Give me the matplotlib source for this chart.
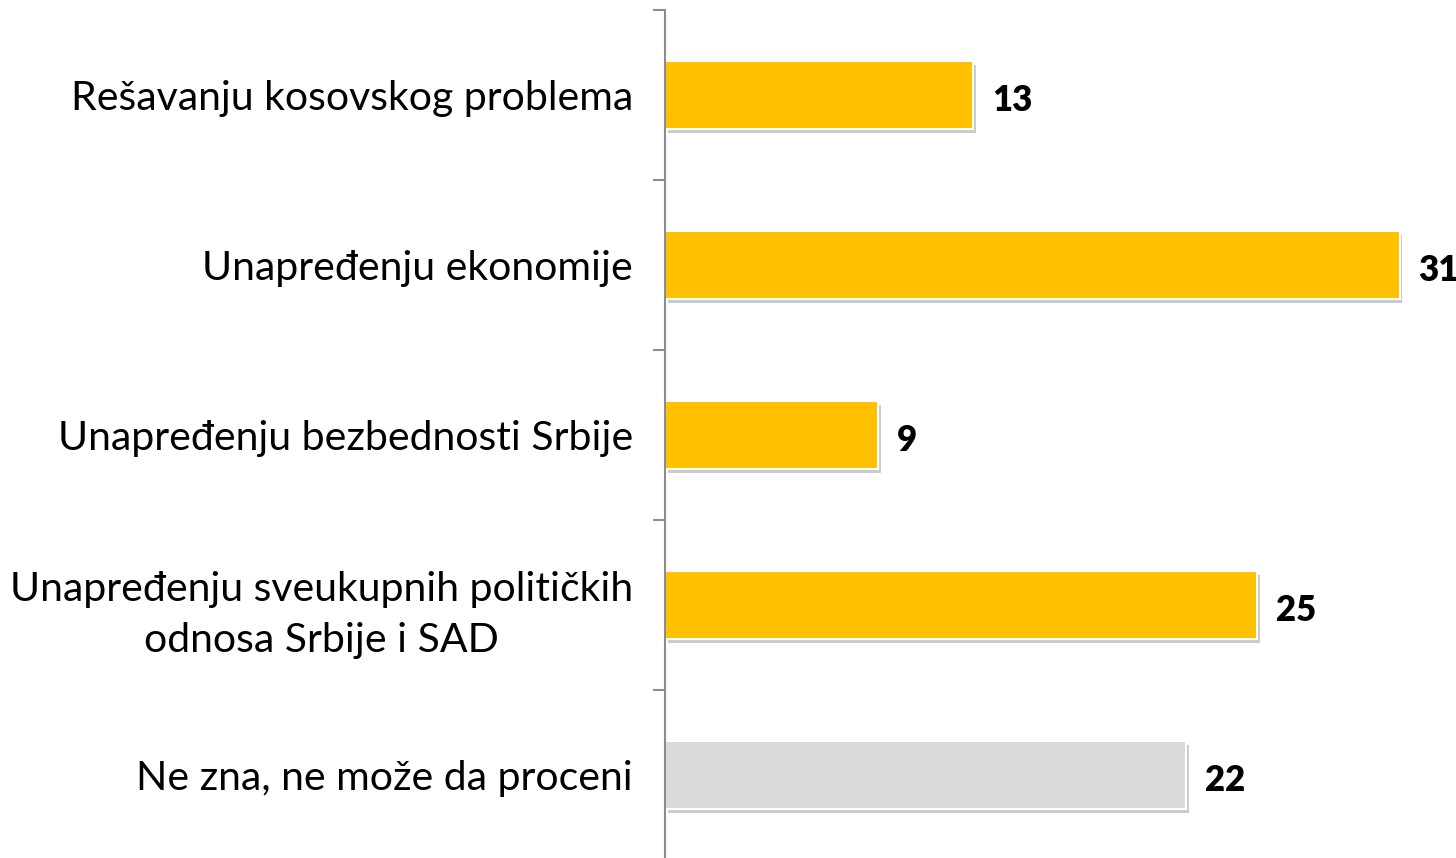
import numpy as np
import matplotlib.pyplot as plt
import matplotlib.patheffects as pe

kategorije = ["Rešavanju kosovskog problema",
              "Unapređenju ekonomije",
              "Unapređenju bezbednosti Srbije",
              "Unapređenju sveukupnih političkih\nodnosa Srbije i SAD",
              "Ne zna, ne može da proceni"]
vrednosti = [13, 31, 9, 25, 22]
boje = ["#FFC000", "#FFC000", "#FFC000", "#FFC000", "#D9D9D9"]

plt.rcParams['font.family'] = ['Lato', 'DejaVu Sans']

fig = plt.figure(figsize=(14.56, 8.58), dpi=100)
ax = fig.add_axes([665/1456, -2/858, 782/1456, 850/858])

y = np.arange(len(kategorije))
senka = [pe.SimplePatchShadow(offset=(2, -3), shadow_rgbFace='#999999', alpha=0.5), pe.Normal()]
bars = ax.barh(y, vrednosti, height=0.4, color=boje, edgecolor='white', linewidth=1.5)
for b in bars:
    b.set_path_effects(senka)

for yi, v in zip(y, vrednosti):
    ax.text(v + 0.8, yi + 0.03, str(v), va='center', ha='left', fontsize=25,
            fontweight='heavy', clip_on=False)

ax.set_xlim(0, 33)
ax.set_ylim(4.5, -0.5)
ax.set_yticks(y)
ax.set_yticklabels(kategorije, fontsize=29.5, linespacing=1.45, ha='right',
                   multialignment='center')
ax.tick_params(axis='y', which='major', length=0, pad=23)
ax.set_yticks(np.arange(-0.5, 5.0, 1.0), minor=True)
ax.tick_params(axis='y', which='minor', length=9, width=1.5, color='#8c8c8c')
ax.set_xticks([])
for s in ['top', 'right', 'bottom']:
    ax.spines[s].set_visible(False)
ax.spines['left'].set_color('#8c8c8c')
ax.spines['left'].set_linewidth(1.5)

fig.savefig("out.png", dpi=100)
